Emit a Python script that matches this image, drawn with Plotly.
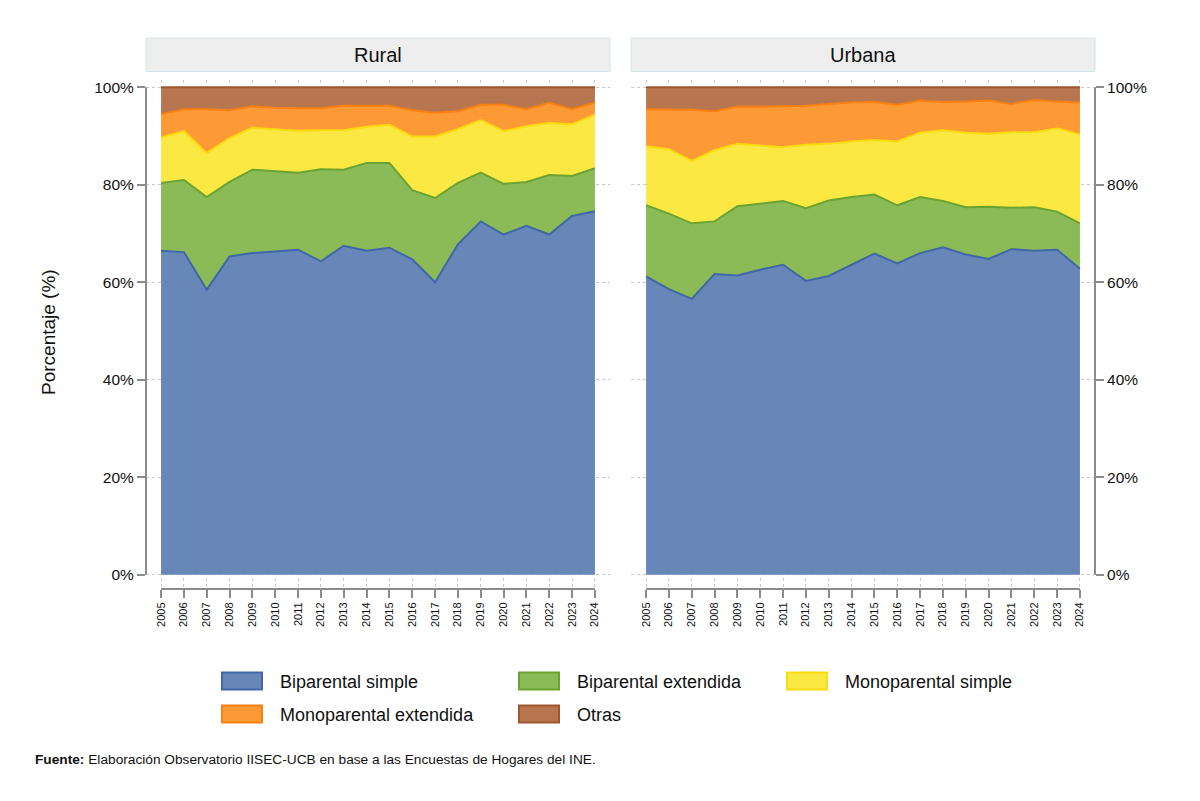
import plotly.graph_objects as go

years = list(range(2005, 2025))
year_labels = [str(y) for y in years]
categories = ["Biparental simple", "Biparental extendida", "Monoparental simple",
              "Monoparental extendida", "Otras"]
panels = ["Rural", "Urbana"]
y_tickvals = [0, 20, 40, 60, 80, 100]
y_ticklabels = ["0%", "20%", "40%", "60%", "80%", "100%"]

# Shares (%) by household type, Rural
rural_bip_simple = [66.5, 66.2, 58.5, 65.3, 66.0, 66.3, 66.7, 64.3, 67.5, 66.5,
                    67.1, 64.7, 60.0, 67.8, 72.5, 69.8, 71.6, 69.8, 73.6, 74.6]
rural_bip_ext = [13.9, 14.8, 19.0, 15.3, 17.1, 16.5, 15.8, 18.9, 15.6, 18.0,
                 17.4, 14.2, 17.3, 12.6, 10.0, 10.4, 9.0, 12.2, 8.2, 8.8]
rural_mono_simple = [9.3, 10.0, 9.0, 9.0, 8.6, 8.6, 8.6, 8.0, 8.1, 7.4,
                     7.8, 11.0, 12.6, 11.0, 10.8, 10.8, 11.4, 10.7, 10.6, 11.0]
rural_mono_ext = [4.8, 4.5, 9.0, 5.7, 4.4, 4.4, 4.6, 4.5, 5.0, 4.3,
                  3.9, 5.4, 4.9, 3.7, 3.1, 5.4, 3.5, 4.1, 3.1, 2.5]
rural_otras = [5.5, 4.5, 4.5, 4.7, 3.9, 4.2, 4.3, 4.3, 3.8, 3.8,
               3.8, 4.7, 5.2, 4.9, 3.6, 3.6, 4.5, 3.2, 4.5, 3.1]

# Shares (%) by household type, Urbana
urb_bip_simple = [61.2, 58.6, 56.6, 61.7, 61.4, 62.6, 63.6, 60.3, 61.3, 63.6,
                  65.9, 63.9, 66.0, 67.2, 65.7, 64.8, 66.8, 66.5, 66.7, 62.8]
urb_bip_ext = [14.6, 15.5, 15.5, 10.8, 14.2, 13.5, 13.1, 14.9, 15.5, 13.9,
               12.1, 11.9, 11.5, 9.5, 9.7, 10.7, 8.5, 8.9, 7.8, 9.3]
urb_mono_simple = [12.1, 13.2, 12.8, 14.6, 12.8, 12.0, 11.0, 13.0, 11.6, 11.4,
                   11.2, 13.1, 13.2, 14.5, 15.3, 15.0, 15.5, 15.4, 17.1, 18.2]
urb_mono_ext = [7.6, 8.2, 10.5, 8.0, 7.6, 7.9, 8.4, 8.0, 8.2, 8.0,
                7.8, 7.5, 6.6, 5.8, 6.4, 6.8, 5.8, 6.6, 5.5, 6.6]
urb_otras = [4.5, 4.5, 4.6, 4.9, 4.0, 4.0, 3.9, 3.8, 3.4, 3.1,
             3.0, 3.6, 2.7, 3.0, 2.9, 2.7, 3.4, 2.6, 2.9, 3.1]

fill_colors = ["#6787B8", "#8ABB57", "#FCE843", "#FE9A35", "#B87650"]
line_colors = ["#4167A8", "#6AA332", "#F9DC10", "#F98012", "#A0562E"]

W, H = 1200, 801
FONT = "Liberation Sans, Arial, sans-serif"

def px(x):
    return x / W

def py(y):
    return (H - y) / H

fig = go.Figure()

series = {
    "Rural": [rural_bip_simple, rural_bip_ext, rural_mono_simple, rural_mono_ext, rural_otras],
    "Urbana": [urb_bip_simple, urb_bip_ext, urb_mono_simple, urb_mono_ext, urb_otras],
}
for pi, panel in enumerate(panels):
    xa = "x" if pi == 0 else "x2"
    ya = "y" if pi == 0 else "y2"
    for ci, cat in enumerate(categories):
        fig.add_trace(go.Scatter(
            x=years, y=series[panel][ci], name=cat, xaxis=xa, yaxis=ya,
            stackgroup=panel, mode="lines",
            line=dict(color=line_colors[ci], width=2),
            fillcolor=fill_colors[ci], showlegend=False, hoverinfo="skip",
        ))

x_domains = [[px(146), px(610)], [px(631), px(1095)]]
y_domain = [py(589), py(80)]
grid = dict(showgrid=True, gridcolor="#C8C8C8", griddash="dot", gridwidth=1, zeroline=False)

xcommon = dict(range=[2004.34, 2024.66], tickvals=years, ticktext=year_labels,
               tickangle=-90, ticks="outside", ticklen=8, tickcolor="#8C8C8C",
               tickwidth=1.5, tickfont=dict(size=11, color="#111111", family=FONT),
               showline=False, **grid)
ycommon = dict(range=[-2.9, 101.5], tickvals=y_tickvals, ticktext=y_ticklabels,
               ticks="outside", ticklen=8, tickcolor="#8C8C8C", tickwidth=1.5,
               tickfont=dict(size=15.5, color="#111111", family=FONT),
               showline=False, domain=y_domain, **grid)

fig.update_layout(
    width=W, height=H, margin=dict(l=0, r=0, t=0, b=0),
    paper_bgcolor="white", plot_bgcolor="white",
    font=dict(family=FONT, color="#111111"),
    xaxis=dict(domain=x_domains[0], anchor="y", **xcommon),
    xaxis2=dict(domain=x_domains[1], anchor="y2", **xcommon),
    yaxis=dict(anchor="x", side="left", **ycommon),
    yaxis2=dict(anchor="x2", side="right", **ycommon),
    showlegend=False,
)

shapes = []
annotations = []
# axis lines spanning only the data range
shapes.append(dict(type="line", xref="paper", yref="y", x0=px(146), x1=px(146), y0=0, y1=100,
                   line=dict(color="#8C8C8C", width=2)))
shapes.append(dict(type="line", xref="paper", yref="y2", x0=px(1095), x1=px(1095), y0=0, y1=100,
                   line=dict(color="#8C8C8C", width=2)))
for xa in ["x", "x2"]:
    shapes.append(dict(type="line", xref=xa, yref="paper", x0=years[0], x1=years[-1],
                       y0=py(589), y1=py(589), line=dict(color="#8C8C8C", width=2)))

# facet strips
for pi, panel in enumerate(panels):
    x0, x1 = x_domains[pi]
    shapes.append(dict(type="rect", xref="paper", yref="paper", x0=x0, x1=x1,
                       y0=py(71.5), y1=py(38), fillcolor="#EEEEEE",
                       line=dict(color="#D3E4EB", width=1), layer="below"))
    annotations.append(dict(text=panel, xref="paper", yref="paper", x=(x0 + x1) / 2,
                            y=py(54.5), showarrow=False, xanchor="center", yanchor="middle",
                            font=dict(size=20, color="#111111", family=FONT)))

# y title
annotations.append(dict(text="Porcentaje (%)", xref="paper", yref="paper", x=px(48),
                        y=py(332), textangle=-90, showarrow=False, xanchor="center",
                        yanchor="middle", font=dict(size=19, color="#111111", family=FONT)))

# legend (manual)
legend_pos = [(222, 681), (519, 681), (787, 681), (222, 714), (519, 714)]
for ci, cat in enumerate(categories):
    lx, ly = legend_pos[ci]
    shapes.append(dict(type="rect", xref="paper", yref="paper", x0=px(lx), x1=px(lx + 40),
                       y0=py(ly + 8.5), y1=py(ly - 8.5), fillcolor=fill_colors[ci],
                       line=dict(color=line_colors[ci], width=2)))
    annotations.append(dict(text=cat, xref="paper", yref="paper", x=px(lx + 56), y=py(ly + 1),
                            showarrow=False, xanchor="left", yanchor="middle",
                            font=dict(size=18, color="#111111", family=FONT)))

# source note
annotations.append(dict(text="<b>Fuente:</b> Elaboración Observatorio IISEC-UCB en base a las Encuestas de Hogares del INE.",
                        xref="paper", yref="paper", x=px(33), y=py(759), showarrow=False,
                        xanchor="left", yanchor="middle",
                        font=dict(size=13.7, color="#111111", family=FONT)))

fig.update_layout(shapes=shapes, annotations=annotations)
fig.write_html("out.html")
